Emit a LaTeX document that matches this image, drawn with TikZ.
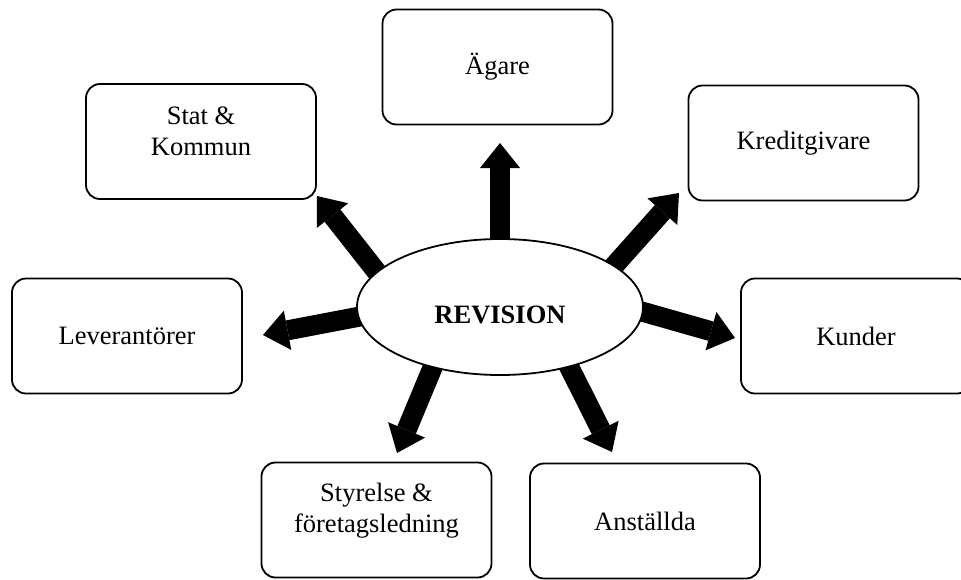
\documentclass[tikz,border=0pt]{standalone}
\usepackage{fontspec}
\setmainfont{Liberation Serif}
\usetikzlibrary{arrows.meta,backgrounds,shapes.geometric}
\begin{document}
\begin{tikzpicture}[x=1pt,y=-1pt,
  every node/.style={font=\fontsize{26.5pt}{31pt}\selectfont},
  box/.style={draw,line width=1.8pt,rounded corners=14pt,minimum width=230pt,minimum height=115pt,inner sep=0pt},
  txt/.style={align=center,inner sep=0pt},
  bigarrow/.style={line width=20pt,shorten <=-14pt,-{Triangle[width=40pt,length=25pt,line width=0pt]}}]
\useasboundingbox (0,0) rectangle (961,579);
\clip (0,0) rectangle (961,579);
% boxes
\node[box] (agare) at (497.5,67) {Ägare};
\node[box] (stat) at (201,141.5) {};
\node[txt] (statt) at (201,131) {Stat \&\\Kommun};
\node[box] (kredit) at (803.5,143) {Kreditgivare};
\node[box] (lev) at (127,336) {Leverantörer};
\node[box] (kund) at (856,336) {Kunder};
\node[box] (styr) at (376.5,520) {};
\node[txt] (styrt) at (376.5,511) {Styrelse \&\\företagsledning};
\node[box] (anst) at (645,521) {Anställda};
% centre
\node[ellipse,draw,fill=white,line width=1.8pt,minimum width=286pt,minimum height=136pt,inner sep=0pt,
  text height=33.6pt,text depth=0pt,font=\fontsize{26.5pt}{31pt}\selectfont\bfseries] (rev) at (500,307) {REVISION};
% arrow tips
\coordinate (tA) at (500,143);
\coordinate (tS) at (317,196);
\coordinate (tK) at (679,193);
\coordinate (tL) at (263,335);
\coordinate (tU) at (735,338);
\coordinate (tY) at (397,453);
\coordinate (tN) at (612,452);
\begin{pgfonlayer}{background}
\draw[bigarrow] (rev.90) -- (tA);
\draw[bigarrow] (rev.164.4) -- (tS);
\draw[bigarrow] (rev.20.6) -- (tK);
\draw[bigarrow] (rev.184) -- (tL);
\draw[bigarrow] (rev.358) -- (tU);
\draw[bigarrow] (rev.222.8) -- (tY);
\draw[bigarrow] (rev.319) -- (tN);
\end{pgfonlayer}
\end{tikzpicture}
\end{document}
